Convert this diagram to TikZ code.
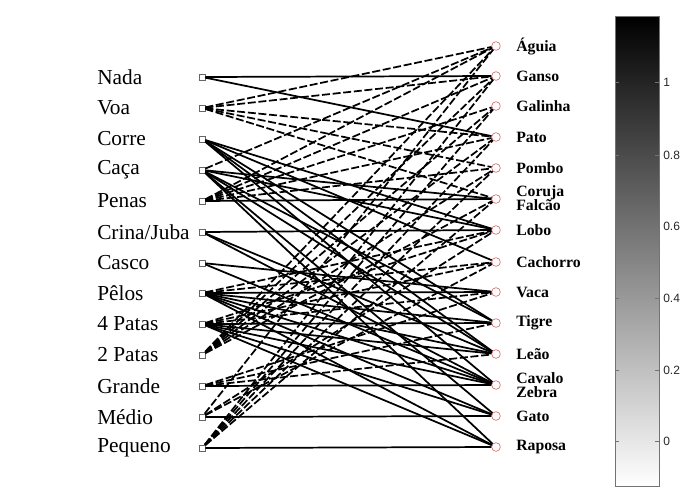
\documentclass[tikz,border=0pt]{standalone}
\usepackage{fontspec}
\setmainfont{Liberation Serif}
\newfontfamily\axfont{Liberation Sans}
\begin{document}
\begin{tikzpicture}[x=0.75pt,y=-0.75pt,
  sq/.style={draw=black!60,line width=0.5pt,minimum size=4.5pt,inner sep=0pt,fill=white},
  cir/.style={circle,draw={rgb,255:red,215;green,110;blue,110},line width=0.5pt,minimum size=6.5pt,inner sep=0pt},
  lt/.style={anchor=west,font=\fontsize{16}{17}\selectfont,inner sep=0pt},
  rt/.style={anchor=west,font=\bfseries\fontsize{11.8}{12}\selectfont,inner sep=0pt},
  rts/.style={anchor=west,font=\bfseries\fontsize{11.8}{12}\selectfont,inner sep=0pt,text height=7.6pt,text depth=0.3pt},
  solidln/.style={line width=1.3pt,black},
  dashln/.style={line width=1.3pt,black,dash pattern=on 6pt off 2pt},
  tk/.style={draw=black!55,line width=0.4pt},
  tl/.style={anchor=west,font=\axfont\fontsize{9}{10}\selectfont,inner sep=0pt,text=black!85}
]
\useasboundingbox (0,0) rectangle (680,493);

% left nodes
\foreach \n/\y/\t in {nada/77/Nada, voa/108/Voa, corre/139/Corre, caca/170/Caça, penas/201/Penas,
  crina/232/Crina\slash Juba, casco/263/Casco, pelos/293/Pêlos, pquatro/324/4 Patas, pdois/355/2 Patas,
  grande/386/Grande, medio/417/Médio, pequeno/448/Pequeno}{
  \node[sq] (\n) at (202,\y) {};
  \node[lt] (t\n) at (97,\y) {\t};
}
% right nodes
\foreach \n/\y/\t in {aguia/46/Águia, ganso/76/Ganso, galinha/106/Galinha, pato/137/Pato, pombo/168/Pombo,
  lobo/230/Lobo, cachorro/262/Cachorro, vaca/292/Vaca, tigre/323/Tigre,
  leao/354/Leão, gato/416/Gato, raposa/447/Raposa}{
  \node[cir] (\n) at (496,\y) {};
  \node[rt] (t\n) at (516,\y) {\t};
}
\node[cir] (coruja) at (496,199) {};
\node[rts] (tcoruja) at (516,192) {Coruja};
\node[rts] (tfalcao) at (516,206) {Falcão};
\node[cir] (cavalo) at (496,385) {};
\node[rts] (tcavalo) at (516,378.5) {Cavalo};
\node[rts] (tzebra) at (516,392.5) {Zebra};

% solid connections (downward / horizontal)
\foreach \a/\b in {nada/ganso, nada/pato,
  corre/cachorro, corre/lobo, corre/tigre, corre/leao, corre/cavalo,
  caca/coruja, caca/raposa, caca/lobo, caca/gato, caca/tigre, caca/leao,
  penas/coruja,
  crina/lobo, crina/leao, crina/cavalo,
  casco/cavalo, casco/vaca,
  pelos/raposa, pelos/gato, pelos/tigre, pelos/leao, pelos/cavalo, pelos/vaca,
  pquatro/raposa, pquatro/gato, pquatro/tigre, pquatro/leao, pquatro/cavalo,
  grande/cavalo, medio/gato, pequeno/raposa}{
  \draw[solidln] (\a) -- (\b);
}
% dashed connections (upward)
\foreach \a/\b in {voa/pombo, voa/pato, voa/ganso, voa/coruja, voa/aguia,
  caca/aguia,
  penas/pombo, penas/galinha, penas/pato, penas/ganso, penas/aguia,
  pelos/cachorro, pelos/lobo,
  pquatro/cachorro, pquatro/lobo, pquatro/vaca,
  pdois/pombo, pdois/galinha, pdois/pato, pdois/ganso, pdois/coruja, pdois/aguia,
  grande/tigre, grande/leao, grande/vaca,
  medio/aguia, medio/cachorro, medio/lobo,
  pequeno/pombo, pequeno/galinha, pequeno/pato, pequeno/ganso, pequeno/coruja}{
  \draw[dashln] (\a) -- (\b);
}

% colorbar
\shade[top color=black, bottom color=white] (615,16) rectangle (659,486);
\draw[draw=black!55,line width=0.5pt] (615,16) rectangle (659,486);
\foreach \y/\v in {82/1, 155/0.8, 226/0.6, 298/0.4, 370/0.2, 441/0}{
  \draw[tk] (615,\y) -- (619,\y);
  \draw[tk] (655,\y) -- (659,\y);
  \node[tl] at (663,\y) {\v};
}
\end{tikzpicture}
\end{document}
